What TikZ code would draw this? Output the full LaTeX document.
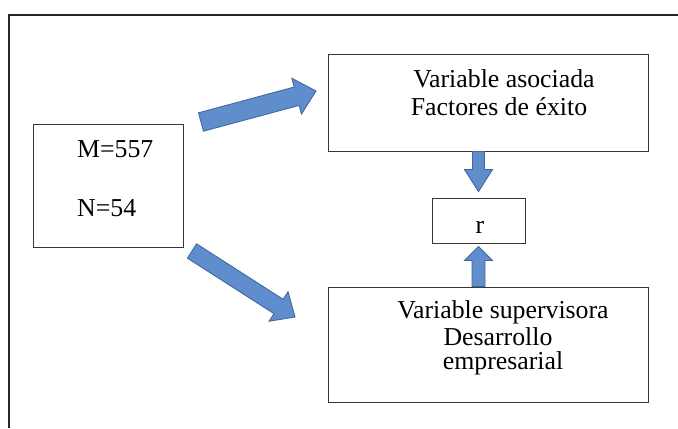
\documentclass[tikz,border=0pt]{standalone}
\usepackage{fontspec}
\setmainfont{Liberation Serif}
\usetikzlibrary{calc}
\definecolor{arrowfill}{RGB}{96,142,205}
\definecolor{arrowline}{RGB}{65,104,158}
\definecolor{boxline}{RGB}{55,55,55}
\newcommand{\blkarrow}[5]{%
  \coordinate (bkH) at ($(#2)!#5!(#1)$);
  \draw[barrow] ($(#1)!#3!90:(#2)$) -- ($(bkH)!#3!90:(#2)$) -- ($(bkH)!#4!90:(#2)$) -- (#2)
    -- ($(bkH)!#4!-90:(#2)$) -- ($(bkH)!#3!-90:(#2)$) -- ($(#1)!#3!-90:(#2)$) -- cycle;}
\begin{document}
\begin{tikzpicture}[x=1bp, y=-1bp,
  font=\fontsize{25.8bp}{28bp}\selectfont,
  box/.style={draw=boxline, line width=0.9bp, inner sep=0pt},
  txt/.style={inner sep=0pt, anchor=base},
  barrow/.style={fill=arrowfill, draw=arrowline, line width=0.9bp, line join=miter}]
\useasboundingbox (0,0) rectangle (678,428);
\fill[white] (0,0) rectangle (678,428);
\draw[line width=2bp, black!85] (678,15) -- (9,15) -- (9,428);
% boxes
\node[box, minimum width=150bp, minimum height=123bp] (mn) at (108,185.5) {};
\node[box, minimum width=320bp, minimum height=97bp] (top) at (488,102.5) {};
\node[box, minimum width=320bp, minimum height=115bp] (bot) at (488,344.5) {};
\node[box, minimum width=93bp, minimum height=45bp] (r) at (478.5,220.5) {};
% texts
\node[txt, anchor=base west] (tm) at (77,157) {M=557};
\node[txt, anchor=base west] (tn) at (77,216) {N=54};
\node[txt] (t1) at (504,87) {Variable asociada};
\node[txt] (t2) at (499,115) {Factores de éxito};
\node[txt] (b1) at (503,318) {Variable supervisora};
\node[txt] (b2) at (498,345) {Desarrollo};
\node[txt] (b3) at (503,369) {empresarial};
\node[txt] (tr) at (480,233) {r};
% arrows
\coordinate (a1t) at (201,122);
\coordinate (a1p) at (316,91);
\blkarrow{a1t}{a1p}{9.5bp}{18.5bp}{20bp}
\coordinate (a2t) at (192,251);
\coordinate (a2p) at (295,317);
\blkarrow{a2t}{a2p}{8.5bp}{17.5bp}{19.5bp}
\coordinate (a3t) at (r |- top.south);
\coordinate (a3p) at ($(r.north)+(0,-6)$);
\blkarrow{a3t}{a3p}{6bp}{14bp}{22bp}
\coordinate (a4t) at (r |- bot.north);
\coordinate (a4p) at ($(r.south)+(0,3)$);
\blkarrow{a4t}{a4p}{6.5bp}{14bp}{14bp}
\end{tikzpicture}
\end{document}
